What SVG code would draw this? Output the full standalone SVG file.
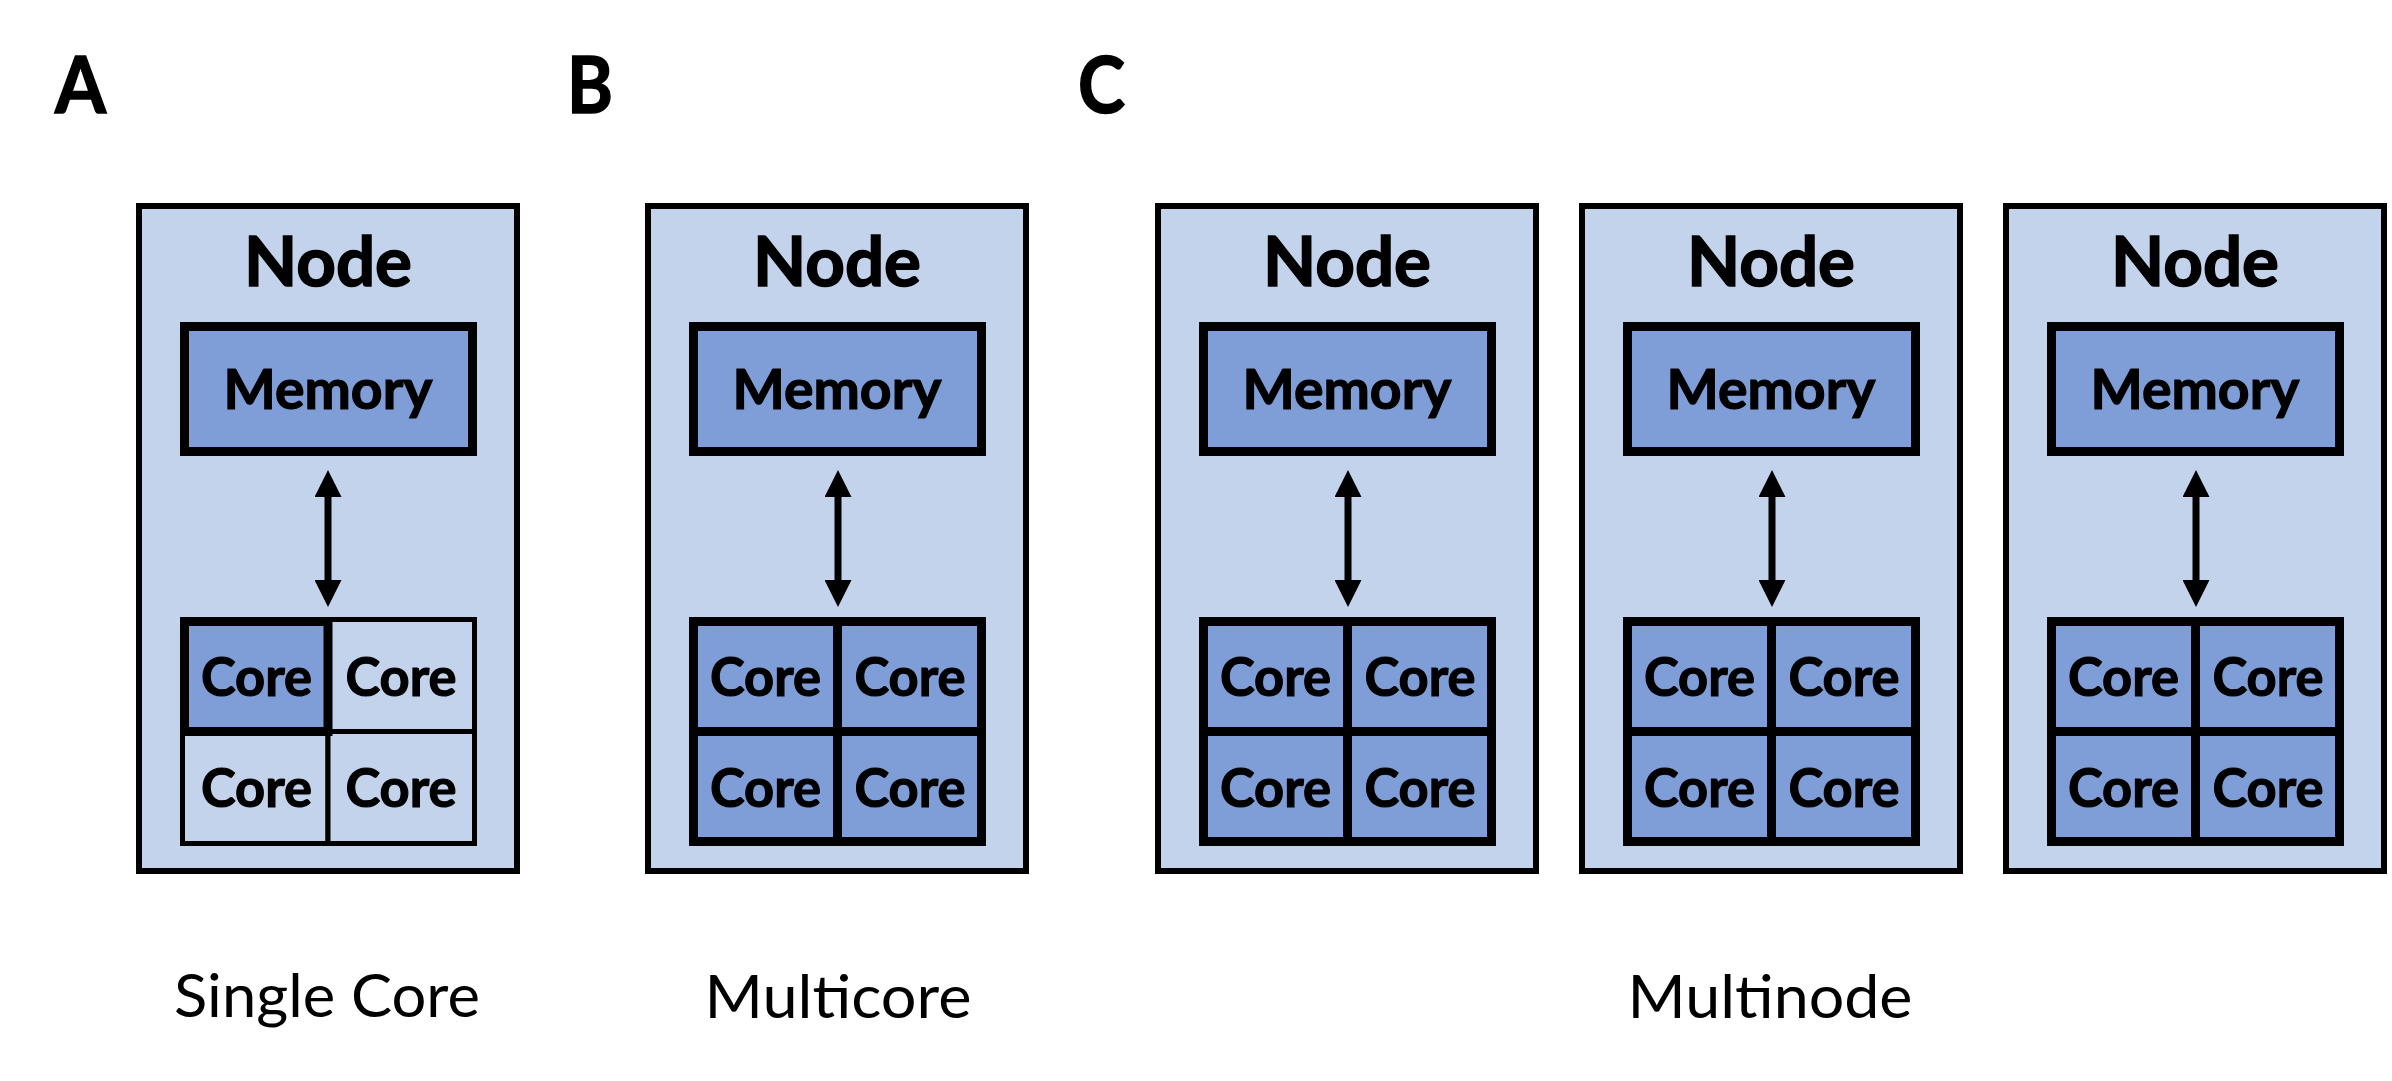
<svg xmlns="http://www.w3.org/2000/svg" width="2392" height="1081" viewBox="0 0 2392 1081">
<style>
.bg{fill:#ffffff}
.node{fill:#C3D3EC;stroke:#000;stroke-width:6}
.mem{fill:#7F9DD6;stroke:#000;stroke-width:9}
.core{fill:#7F9DD6;stroke:#000;stroke-width:9}
.coreoff{fill:#C3D3EC;stroke:#000;stroke-width:5}
.t{font-family:Lato,"Liberation Sans",sans-serif;fill:#000;text-anchor:middle}
.tn{font-size:68px;font-weight:bold;stroke:#000;stroke-width:1.5}
.tm{font-size:55px;font-weight:bold;stroke:#000;stroke-width:1.2}
.tc{font-size:54px;font-weight:bold;stroke:#000;stroke-width:1.2}
.tl{font-size:60px;font-weight:normal}
.tp{font-family:Lato,"Liberation Sans",sans-serif;font-size:78px;font-weight:bold;fill:#000;stroke:#000;stroke-width:1.5}
.arr{stroke:#000;stroke-width:7;fill:none;marker-start:url(#ah);marker-end:url(#ah)}
</style>
<defs>
<marker id="ah" viewBox="0 0 27 27" refX="15" refY="13.5" markerUnits="userSpaceOnUse" markerWidth="27" markerHeight="27" orient="auto-start-reverse">
<path d="M0,0 L27,13.5 L0,27 z" fill="#000"/>
</marker>
</defs>
<rect class="bg" x="0" y="0" width="2392" height="1081"/>

<g id="panel-labels">
<text class="tp" x="55" y="113" textLength="51" lengthAdjust="spacingAndGlyphs">A</text>
<text class="tp" x="567" y="113" textLength="46" lengthAdjust="spacingAndGlyphs">B</text>
<text class="tp" x="1078" y="113" textLength="47" lengthAdjust="spacingAndGlyphs">C</text>
</g>

<!-- Node A (single core) -->
<g id="nodeA" transform="translate(136,0)">
<rect class="node" x="3" y="206" width="378" height="665"/>
<text class="t tn" x="192" y="286" textLength="168" lengthAdjust="spacingAndGlyphs">Node</text>
<g id="nodeA-memory">
<rect class="mem" x="48.5" y="326.5" width="288" height="125"/>
<text class="t tm" x="192" y="409" textLength="209" lengthAdjust="spacingAndGlyphs">Memory</text>
</g>
<g id="nodeA-cores">
<rect class="coreoff" x="192" y="619.5" width="146.5" height="112"/>
<rect class="coreoff" x="46.5" y="731.5" width="145.5" height="112"/>
<rect class="coreoff" x="192" y="731.5" width="146.5" height="112"/>
<rect class="core" x="48.5" y="621.5" width="143.5" height="110"/>
<text class="t tc" x="120.5" y="696" textLength="111" lengthAdjust="spacingAndGlyphs">Core</text>
<text class="t tc" x="265" y="696" textLength="111" lengthAdjust="spacingAndGlyphs">Core</text>
<text class="t tc" x="120.5" y="807" textLength="111" lengthAdjust="spacingAndGlyphs">Core</text>
<text class="t tc" x="265" y="807" textLength="111" lengthAdjust="spacingAndGlyphs">Core</text>
</g>
</g>

<!-- Node B (multicore) -->
<g id="nodeB" transform="translate(645,0)">
<rect class="node" x="3" y="206" width="378" height="665"/>
<text class="t tn" x="192" y="286" textLength="168" lengthAdjust="spacingAndGlyphs">Node</text>
<g id="nodeB-memory">
<rect class="mem" x="48.5" y="326.5" width="288" height="125"/>
<text class="t tm" x="192" y="409" textLength="209" lengthAdjust="spacingAndGlyphs">Memory</text>
</g>
<g id="nodeB-cores">
<rect class="core" x="48.5" y="621.5" width="144" height="110"/>
<rect class="core" x="192.5" y="621.5" width="144" height="110"/>
<rect class="core" x="48.5" y="731.5" width="144" height="110"/>
<rect class="core" x="192.5" y="731.5" width="144" height="110"/>
<text class="t tc" x="120.5" y="696" textLength="111" lengthAdjust="spacingAndGlyphs">Core</text>
<text class="t tc" x="265" y="696" textLength="111" lengthAdjust="spacingAndGlyphs">Core</text>
<text class="t tc" x="120.5" y="807" textLength="111" lengthAdjust="spacingAndGlyphs">Core</text>
<text class="t tc" x="265" y="807" textLength="111" lengthAdjust="spacingAndGlyphs">Core</text>
</g>
</g>

<!-- Node C1 -->
<g id="nodeC1" transform="translate(1155,0)">
<rect class="node" x="3" y="206" width="378" height="665"/>
<text class="t tn" x="192" y="286" textLength="168" lengthAdjust="spacingAndGlyphs">Node</text>
<g id="nodeC1-memory">
<rect class="mem" x="48.5" y="326.5" width="288" height="125"/>
<text class="t tm" x="192" y="409" textLength="209" lengthAdjust="spacingAndGlyphs">Memory</text>
</g>
<g id="nodeC1-cores">
<rect class="core" x="48.5" y="621.5" width="144" height="110"/>
<rect class="core" x="192.5" y="621.5" width="144" height="110"/>
<rect class="core" x="48.5" y="731.5" width="144" height="110"/>
<rect class="core" x="192.5" y="731.5" width="144" height="110"/>
<text class="t tc" x="120.5" y="696" textLength="111" lengthAdjust="spacingAndGlyphs">Core</text>
<text class="t tc" x="265" y="696" textLength="111" lengthAdjust="spacingAndGlyphs">Core</text>
<text class="t tc" x="120.5" y="807" textLength="111" lengthAdjust="spacingAndGlyphs">Core</text>
<text class="t tc" x="265" y="807" textLength="111" lengthAdjust="spacingAndGlyphs">Core</text>
</g>
</g>

<!-- Node C2 -->
<g id="nodeC2" transform="translate(1579,0)">
<rect class="node" x="3" y="206" width="378" height="665"/>
<text class="t tn" x="192" y="286" textLength="168" lengthAdjust="spacingAndGlyphs">Node</text>
<g id="nodeC2-memory">
<rect class="mem" x="48.5" y="326.5" width="288" height="125"/>
<text class="t tm" x="192" y="409" textLength="209" lengthAdjust="spacingAndGlyphs">Memory</text>
</g>
<g id="nodeC2-cores">
<rect class="core" x="48.5" y="621.5" width="144" height="110"/>
<rect class="core" x="192.5" y="621.5" width="144" height="110"/>
<rect class="core" x="48.5" y="731.5" width="144" height="110"/>
<rect class="core" x="192.5" y="731.5" width="144" height="110"/>
<text class="t tc" x="120.5" y="696" textLength="111" lengthAdjust="spacingAndGlyphs">Core</text>
<text class="t tc" x="265" y="696" textLength="111" lengthAdjust="spacingAndGlyphs">Core</text>
<text class="t tc" x="120.5" y="807" textLength="111" lengthAdjust="spacingAndGlyphs">Core</text>
<text class="t tc" x="265" y="807" textLength="111" lengthAdjust="spacingAndGlyphs">Core</text>
</g>
</g>

<!-- Node C3 -->
<g id="nodeC3" transform="translate(2003,0)">
<rect class="node" x="3" y="206" width="378" height="665"/>
<text class="t tn" x="192" y="286" textLength="168" lengthAdjust="spacingAndGlyphs">Node</text>
<g id="nodeC3-memory">
<rect class="mem" x="48.5" y="326.5" width="288" height="125"/>
<text class="t tm" x="192" y="409" textLength="209" lengthAdjust="spacingAndGlyphs">Memory</text>
</g>
<g id="nodeC3-cores">
<rect class="core" x="48.5" y="621.5" width="144" height="110"/>
<rect class="core" x="192.5" y="621.5" width="144" height="110"/>
<rect class="core" x="48.5" y="731.5" width="144" height="110"/>
<rect class="core" x="192.5" y="731.5" width="144" height="110"/>
<text class="t tc" x="120.5" y="696" textLength="111" lengthAdjust="spacingAndGlyphs">Core</text>
<text class="t tc" x="265" y="696" textLength="111" lengthAdjust="spacingAndGlyphs">Core</text>
<text class="t tc" x="120.5" y="807" textLength="111" lengthAdjust="spacingAndGlyphs">Core</text>
<text class="t tc" x="265" y="807" textLength="111" lengthAdjust="spacingAndGlyphs">Core</text>
</g>
</g>

<g id="connectors">
<line class="arr" x1="328" y1="482" x2="328" y2="595"/>
<line class="arr" x1="838" y1="482" x2="838" y2="595"/>
<line class="arr" x1="1348" y1="482" x2="1348" y2="595"/>
<line class="arr" x1="1772" y1="482" x2="1772" y2="595"/>
<line class="arr" x1="2196" y1="482" x2="2196" y2="595"/>
</g>

<g id="captions">
<text class="t tl" x="327" y="1017" textLength="306" lengthAdjust="spacingAndGlyphs">Single Core</text>
<text class="t tl" x="838" y="1018" textLength="267" lengthAdjust="spacingAndGlyphs">Multicore</text>
<text class="t tl" x="1770" y="1018" textLength="285" lengthAdjust="spacingAndGlyphs">Multinode</text>
</g>
</svg>
